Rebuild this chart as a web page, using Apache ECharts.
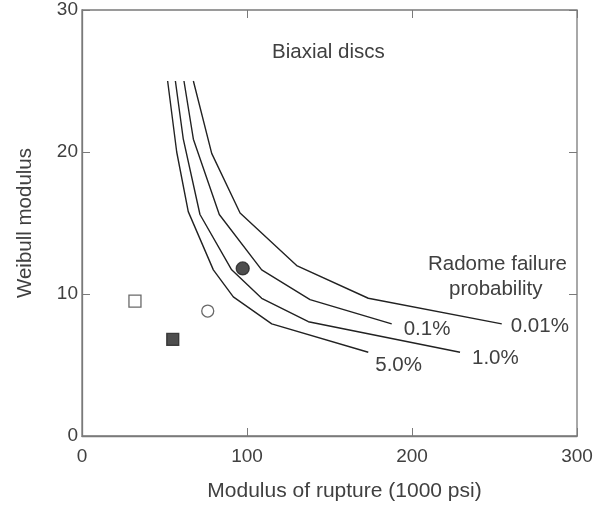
<!DOCTYPE html>
<html>
<head>
    <meta charset="utf-8">
    <title>weibull_mor</title>
    <script type="text/javascript" src="https://cdn.jsdelivr.net/npm/echarts@6/dist/echarts.min.js"></script>
    <style>
        html, body { margin: 0; padding: 0; background: #fff; }
        #chart { width: 606px; height: 507px; }
    </style>
</head>
<body>
<div id="chart"></div>
<script type="text/javascript">
    // failure probability curves, [modulus of rupture (ksi), weibull modulus]
    var curve001 = [[67.5, 25], [78.6, 19.9], [95.8, 15.7], [130.1, 12.0], [173.5, 9.7], [254.4, 7.9]];
    var curve01 = [[61.8, 25], [67.5, 20.9], [83.2, 15.6], [108.9, 11.7], [138.2, 9.6], [187.7, 7.9]];
    var curve1 = [[56.6, 25], [61.4, 20.9], [71.5, 15.6], [90.7, 11.7], [108.9, 9.7], [137.2, 8.05], [229.1, 5.9]];
    var curve5 = [[51.9, 25], [57.4, 20.0], [64.4, 15.8], [79.6, 11.7], [91.7, 9.8], [115.0, 7.9], [173.5, 5.9]];
    var curveNames = ['0.01%', '0.1%', '1.0%', '5.0%'];

    // material points
    var filledCircle = [[97.4, 11.8]];
    var openCircle = [[76.2, 8.8]];
    var openSquare = [[32.1, 9.5]];
    var filledSquare = [[55.0, 6.8]];

    var font = 'Liberation Sans, Arial, sans-serif';
    var txt = '#404040';
    var axisCol = '#7a7a7a';
    var fs = 20.5;

    var chart = echarts.init(document.getElementById('chart'));

    function curve(name, data, off) {
        return {
            name: name,
            type: 'line',
            data: data,
            symbol: 'none',
            silent: true,
            lineStyle: {color: '#222', width: 1.4},
            endLabel: {
                show: true,
                formatter: name,
                fontFamily: font,
                fontSize: fs,
                color: txt,
                align: 'left',
                verticalAlign: 'middle',
                offset: off
            }
        };
    }

    function pts(data, sym, size, fill, border) {
        return {
            type: 'scatter',
            data: data,
            symbol: sym,
            symbolSize: size,
            itemStyle: {color: fill, borderColor: border, borderWidth: 1.3}
        };
    }

    var option = {
        animation: false,
        grid: {left: 82, right: 29, top: 10, bottom: 71, show: true, borderColor: axisCol, borderWidth: 1.3},
        xAxis: [{
            type: 'value', min: 0, max: 300, interval: 100,
            name: 'Modulus of rupture (1000 psi)',
            nameLocation: 'middle', nameGap: 45,
            nameTextStyle: {fontFamily: font, fontSize: 21, color: txt, padding: [0, 0, 0, 30]},
            axisLine: {onZero: false, lineStyle: {color: axisCol, width: 1.3}},
            axisTick: {inside: true, length: 8, lineStyle: {color: axisCol}},
            axisLabel: {fontFamily: font, fontSize: 19, color: txt, margin: 11},
            splitLine: {show: false}
        }, {
            type: 'value', min: 0, max: 300, interval: 100, position: 'top',
            axisLine: {show: false, onZero: false},
            axisTick: {inside: true, length: 8, lineStyle: {color: axisCol}},
            axisLabel: {show: false},
            splitLine: {show: false}
        }],
        yAxis: [{
            type: 'value', min: 0, max: 30, interval: 10,
            name: 'Weibull modulus',
            nameLocation: 'middle', nameGap: 46,
            nameTextStyle: {fontFamily: font, fontSize: fs, color: txt},
            axisLine: {show: true, onZero: false, lineStyle: {color: axisCol, width: 1.3}},
            axisTick: {show: true, inside: true, length: 8, lineStyle: {color: axisCol}},
            axisLabel: {fontFamily: font, fontSize: 19, color: txt, margin: 4},
            splitLine: {show: false}
        }, {
            type: 'value', min: 0, max: 30, interval: 10, position: 'right',
            axisLine: {show: false, onZero: false},
            axisTick: {show: true, inside: true, length: 8, lineStyle: {color: axisCol}},
            axisLabel: {show: false},
            splitLine: {show: false}
        }],
        graphic: [
            {type: 'text', left: 272, top: 42, style: {text: 'Biaxial discs', font: fs + 'px ' + font, fill: txt}},
            {type: 'text', left: 428, top: 254, style: {text: 'Radome failure', font: fs + 'px ' + font, fill: txt}},
            {type: 'text', left: 449, top: 279, style: {text: 'probability', font: fs + 'px ' + font, fill: txt}}
        ],
        series: [
            curve(curveNames[0], curve001, [1, 3]),
            curve(curveNames[1], curve01, [4, 6]),
            curve(curveNames[2], curve1, [4, 6]),
            curve(curveNames[3], curve5, [-1, 13]),
            pts(filledCircle, 'circle', 13, '#222', '#222'),
            pts(openCircle, 'circle', 12, '#fff', '#444'),
            pts(openSquare, 'rect', 12, '#fff', '#444'),
            pts(filledSquare, 'rect', 12, '#222', '#222')
        ]
    };
    chart.setOption(option);
</script>
</body>
</html>
